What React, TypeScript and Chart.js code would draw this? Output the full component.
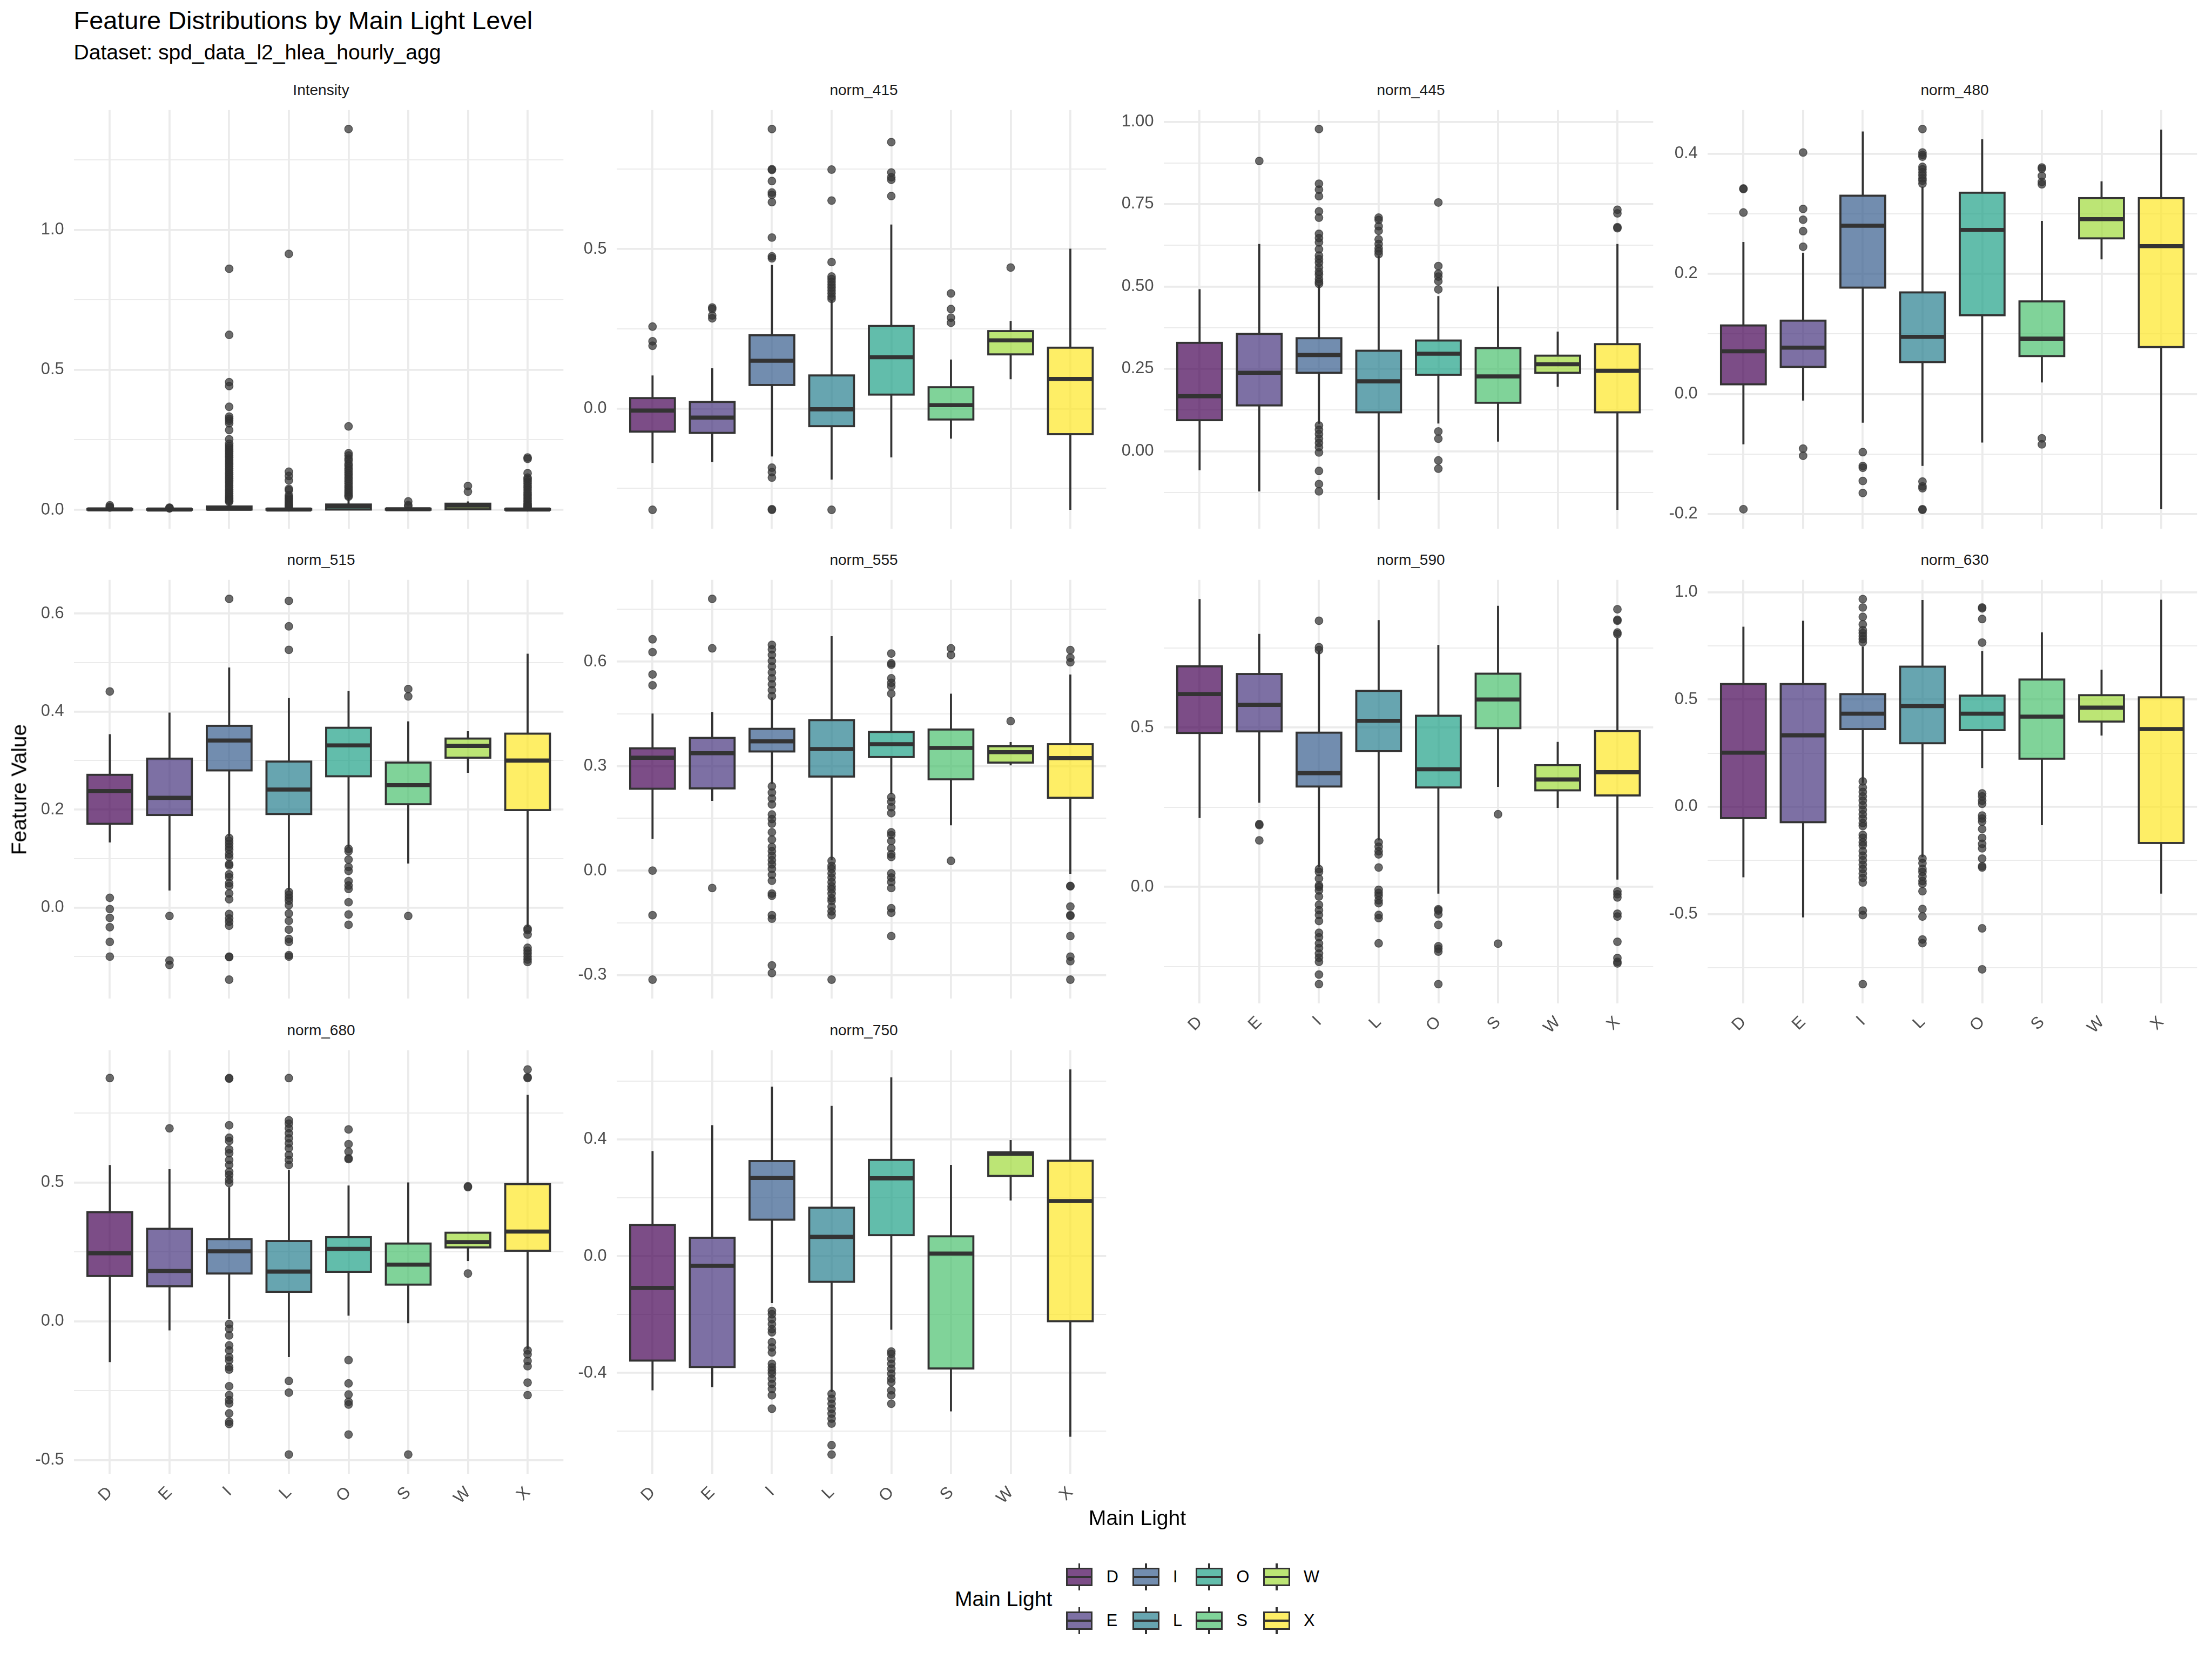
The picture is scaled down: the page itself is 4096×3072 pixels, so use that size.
import React, { useEffect, useRef } from "react";
import { Chart, registerables } from "chart.js";

Chart.register(...registerables);

// ---------------- data ----------------
const categories = ["D", "E", "I", "L", "O", "S", "W", "X"];
const features = ["Intensity", "norm_415", "norm_445", "norm_480", "norm_515", "norm_555", "norm_590", "norm_630", "norm_680", "norm_750"];
const viridisColors = ["#440154", "#46337E", "#365C8D", "#277F8E", "#1FA187", "#4AC16D", "#9FDA3A", "#FDE725"];

const q1Values = [
  [0.0005, 0.0003, 0.001, 0.0004, 0.001, 0.0005, 0.002, 0.0003],
  [-0.072, -0.076, 0.074, -0.055, 0.044, -0.034, 0.170, -0.080],
  [0.094, 0.139, 0.238, 0.118, 0.232, 0.147, 0.238, 0.118],
  [0.016, 0.045, 0.177, 0.053, 0.131, 0.063, 0.259, 0.078],
  [0.171, 0.189, 0.280, 0.191, 0.268, 0.211, 0.306, 0.199],
  [0.235, 0.236, 0.342, 0.270, 0.326, 0.262, 0.310, 0.209],
  [0.483, 0.488, 0.315, 0.426, 0.312, 0.498, 0.303, 0.287],
  [-0.053, -0.072, 0.362, 0.296, 0.357, 0.224, 0.397, -0.169],
  [0.163, 0.126, 0.172, 0.106, 0.178, 0.132, 0.266, 0.254],
  [-0.358, -0.380, 0.125, -0.088, 0.072, -0.385, 0.275, -0.223],
];
const medianValues = [
  [0.0015, 0.001, 0.004, 0.001, 0.012, 0.002, 0.015, 0.001],
  [-0.006, -0.028, 0.150, -0.002, 0.161, 0.011, 0.214, 0.093],
  [0.167, 0.238, 0.292, 0.212, 0.296, 0.227, 0.264, 0.244],
  [0.071, 0.077, 0.280, 0.095, 0.273, 0.092, 0.291, 0.246],
  [0.238, 0.224, 0.341, 0.241, 0.331, 0.250, 0.330, 0.300],
  [0.324, 0.337, 0.371, 0.349, 0.363, 0.352, 0.340, 0.323],
  [0.605, 0.571, 0.357, 0.521, 0.369, 0.588, 0.337, 0.360],
  [0.252, 0.333, 0.434, 0.469, 0.434, 0.420, 0.462, 0.362],
  [0.245, 0.181, 0.252, 0.179, 0.261, 0.204, 0.285, 0.323],
  [-0.109, -0.033, 0.268, 0.066, 0.267, 0.009, 0.351, 0.189],
];
const q3Values = [
  [0.003, 0.002, 0.012, 0.003, 0.019, 0.004, 0.022, 0.003],
  [0.033, 0.021, 0.230, 0.104, 0.259, 0.067, 0.243, 0.191],
  [0.329, 0.356, 0.343, 0.305, 0.336, 0.313, 0.290, 0.325],
  [0.114, 0.122, 0.330, 0.169, 0.335, 0.154, 0.326, 0.326],
  [0.271, 0.304, 0.371, 0.298, 0.367, 0.296, 0.345, 0.355],
  [0.351, 0.381, 0.407, 0.432, 0.398, 0.405, 0.357, 0.363],
  [0.692, 0.668, 0.484, 0.615, 0.537, 0.669, 0.382, 0.489],
  [0.572, 0.572, 0.525, 0.653, 0.518, 0.593, 0.520, 0.510],
  [0.393, 0.333, 0.296, 0.289, 0.303, 0.280, 0.319, 0.494],
  [0.107, 0.063, 0.326, 0.166, 0.330, 0.068, 0.356, 0.327],
];
const whiskerLow = [
  [0.0, 0.0, 0.0, 0.0, 0.0, 0.0, 0.0, 0.0],
  [-0.170, -0.167, -0.150, -0.222, -0.153, -0.094, 0.092, -0.317],
  [-0.058, -0.122, 0.083, -0.148, 0.084, 0.029, 0.196, -0.178],
  [-0.084, -0.011, -0.048, -0.120, -0.081, 0.019, 0.224, -0.192],
  [0.133, 0.035, 0.145, 0.035, 0.123, 0.090, 0.275, -0.040],
  [0.091, 0.200, 0.249, 0.030, 0.220, 0.130, 0.302, -0.009],
  [0.216, 0.264, 0.061, 0.146, -0.021, 0.314, 0.248, 0.023],
  [-0.329, -0.516, 0.111, -0.235, 0.180, -0.086, 0.332, -0.405],
  [-0.147, -0.033, 0.008, -0.129, 0.020, -0.007, 0.217, -0.101],
  [-0.460, -0.449, -0.161, -0.466, -0.252, -0.532, 0.191, -0.619],
];
const whiskerHigh = [
  [0.006, 0.004, 0.028, 0.007, 0.045, 0.009, 0.03, 0.007],
  [0.104, 0.127, 0.450, 0.340, 0.577, 0.154, 0.275, 0.501],
  [0.492, 0.629, 0.505, 0.594, 0.471, 0.500, 0.363, 0.629],
  [0.253, 0.235, 0.437, 0.345, 0.424, 0.288, 0.354, 0.440],
  [0.354, 0.398, 0.490, 0.428, 0.442, 0.380, 0.360, 0.518],
  [0.451, 0.455, 0.497, 0.673, 0.497, 0.508, 0.369, 0.563],
  [0.903, 0.794, 0.740, 0.837, 0.759, 0.882, 0.455, 0.782],
  [0.839, 0.867, 0.747, 0.964, 0.726, 0.813, 0.639, 0.965],
  [0.563, 0.548, 0.483, 0.545, 0.489, 0.500, 0.319, 0.816],
  [0.360, 0.449, 0.581, 0.515, 0.613, 0.313, 0.398, 0.640],
];
const outlierValues: number[][][] = [
  [
    [0.016, 0.011, 0.008],
    [0.008, 0.006, 0.005],
    [0.861, 0.625, 0.456, 0.442, 0.368, 0.333, 0.325, 0.318, 0.309, 0.285, 0.252, 0.236, 0.228, 0.221, 0.214, 0.207, 0.2, 0.193, 0.186, 0.178, 0.171, 0.163, 0.156, 0.148, 0.141, 0.133, 0.126, 0.118, 0.111, 0.103, 0.096, 0.088, 0.081, 0.073, 0.066, 0.059, 0.052, 0.046, 0.041, 0.036, 0.032, 0.029],
    [0.914, 0.136, 0.121, 0.105, 0.075, 0.07, 0.052, 0.046, 0.04, 0.035, 0.029, 0.024, 0.019, 0.015, 0.012, 0.009],
    [1.36, 0.298, 0.202, 0.194, 0.183, 0.176, 0.164, 0.157, 0.148, 0.141, 0.132, 0.125, 0.117, 0.11, 0.101, 0.094, 0.086, 0.078, 0.071, 0.064, 0.058, 0.051, 0.047],
    [0.03, 0.017, 0.012],
    [0.085, 0.065],
    [0.187, 0.182, 0.131, 0.115, 0.109, 0.101, 0.094, 0.086, 0.079, 0.071, 0.063, 0.056, 0.049, 0.042, 0.035, 0.029, 0.023, 0.018, 0.014, 0.011, 0.009],
  ],
  [
    [0.257, 0.211, 0.197, -0.317],
    [0.317, 0.312, 0.292, 0.283],
    [0.876, 0.750, 0.748, 0.713, 0.677, 0.670, 0.647, 0.536, 0.477, 0.471, -0.185, -0.199, -0.216, -0.317, -0.315],
    [0.749, 0.652, 0.459, 0.414, 0.406, 0.397, 0.388, 0.379, 0.370, 0.361, 0.351, 0.344, -0.317],
    [0.835, 0.740, 0.725, 0.717, 0.666],
    [0.361, 0.312, 0.285, 0.269],
    [0.442],
    [],
  ],
  [
    [],
    [0.881],
    [0.978, 0.812, 0.794, 0.774, 0.728, 0.709, 0.660, 0.647, 0.634, 0.613, 0.594, 0.583, 0.572, 0.558, 0.545, 0.536, 0.523, 0.514, 0.508, 0.078, 0.065, 0.052, 0.038, 0.025, 0.012, -0.004, -0.060, -0.100, -0.122],
    [0.709, 0.702, 0.683, 0.669, 0.643, 0.629, 0.616, 0.607, 0.598],
    [0.755, 0.562, 0.539, 0.530, 0.516, 0.491, 0.060, 0.038, -0.028, -0.053],
    [],
    [],
    [0.733, 0.722, 0.680, 0.677],
  ],
  [
    [0.342, 0.341, 0.302, -0.192],
    [0.402, 0.308, 0.290, 0.271, 0.245, -0.091, -0.103],
    [-0.097, -0.120, -0.123, -0.145, -0.165],
    [0.441, 0.402, 0.398, 0.395, 0.378, 0.374, 0.369, 0.364, 0.359, 0.355, 0.350, -0.146, -0.154, -0.157, -0.192, -0.193],
    [],
    [0.377, 0.375, 0.363, 0.353, 0.349, -0.074, -0.084],
    [],
    [],
  ],
  [
    [0.441, 0.020, -0.003, -0.021, -0.040, -0.070, -0.100],
    [-0.017, -0.108, -0.117],
    [0.630, 0.142, 0.136, 0.130, 0.124, 0.118, 0.109, 0.103, 0.089, 0.086, 0.068, 0.062, 0.050, 0.044, 0.029, 0.017, -0.013, -0.022, -0.029, -0.037, -0.100, -0.101, -0.147],
    [0.626, 0.574, 0.526, 0.032, 0.026, 0.020, 0.014, 0.005, -0.012, -0.027, -0.045, -0.064, -0.070, -0.097, -0.100],
    [0.120, 0.115, 0.098, 0.083, 0.075, 0.054, 0.045, 0.038, 0.011, -0.014, -0.035],
    [0.446, 0.431, -0.017],
    [],
    [-0.043, -0.046, -0.055, -0.082, -0.088, -0.094, -0.100, -0.106, -0.111],
  ],
  [
    [0.664, 0.627, 0.563, 0.532, 0.0, -0.128, -0.313],
    [0.780, 0.638, -0.050],
    [0.648, 0.635, 0.619, 0.602, 0.586, 0.569, 0.552, 0.535, 0.518, 0.501, 0.242, 0.224, 0.207, 0.190, 0.161, 0.148, 0.135, 0.110, 0.089, 0.068, 0.056, 0.043, 0.030, 0.018, 0.005, -0.012, -0.029, -0.066, -0.072, -0.128, -0.138, -0.272, -0.294],
    [0.028, 0.013, 0.005, -0.008, -0.020, -0.033, -0.045, -0.054, -0.066, -0.079, -0.087, -0.104, -0.117, -0.128, -0.313],
    [0.623, 0.595, 0.591, 0.552, 0.539, 0.529, 0.508, 0.211, 0.198, 0.182, 0.165, 0.110, 0.102, 0.085, 0.064, 0.047, 0.039, -0.008, -0.020, -0.033, -0.050, -0.108, -0.121, -0.188],
    [0.638, 0.619, 0.028],
    [0.429],
    [0.633, 0.611, 0.598, -0.044, -0.045, -0.103, -0.128, -0.130, -0.188, -0.247, -0.260, -0.313],
  ],
  [
    [],
    [0.197, 0.194, 0.146],
    [0.835, 0.752, 0.743, 0.056, 0.047, 0.026, 0.005, 0.0, -0.011, -0.030, -0.056, -0.073, -0.088, -0.107, -0.144, -0.158, -0.177, -0.192, -0.209, -0.222, -0.235, -0.275, -0.305],
    [0.140, 0.126, 0.112, 0.102, 0.061, -0.009, -0.019, -0.028, -0.042, -0.051, -0.088, -0.098, -0.177],
    [-0.070, -0.074, -0.086, -0.119, -0.186, -0.194, -0.203, -0.305],
    [0.228, -0.178],
    [],
    [0.871, 0.838, 0.835, 0.798, 0.793, -0.014, -0.023, -0.033, -0.084, -0.093, -0.172, -0.223, -0.235, -0.240],
  ],
  [
    [],
    [],
    [0.968, 0.929, 0.885, 0.850, 0.823, 0.809, 0.795, 0.781, 0.767, 0.118, 0.090, 0.069, 0.048, 0.028, 0.007, -0.014, -0.035, -0.055, -0.076, -0.090, -0.131, -0.145, -0.166, -0.180, -0.207, -0.228, -0.249, -0.270, -0.290, -0.311, -0.332, -0.353, -0.484, -0.505, -0.827],
    [-0.242, -0.263, -0.290, -0.304, -0.325, -0.346, -0.359, -0.394, -0.477, -0.512, -0.619, -0.636],
    [0.929, 0.925, 0.875, 0.765, 0.062, 0.048, 0.028, 0.014, -0.041, -0.055, -0.069, -0.104, -0.145, -0.173, -0.194, -0.242, -0.277, -0.283, -0.567, -0.758],
    [],
    [],
    [],
  ],
  [
    [0.876],
    [0.695],
    [0.876, 0.874, 0.706, 0.661, 0.649, 0.619, 0.605, 0.581, 0.563, 0.539, 0.527, 0.510, 0.498, -0.010, -0.027, -0.051, -0.087, -0.105, -0.129, -0.141, -0.165, -0.174, -0.234, -0.266, -0.284, -0.296, -0.332, -0.362, -0.370],
    [0.876, 0.724, 0.712, 0.695, 0.677, 0.659, 0.641, 0.623, 0.599, 0.581, 0.563, -0.215, -0.257, -0.480],
    [0.691, 0.638, 0.611, 0.587, 0.584, -0.140, -0.224, -0.264, -0.290, -0.300, -0.408],
    [-0.480],
    [0.486, 0.483, 0.172],
    [0.907, 0.879, 0.876, -0.105, -0.119, -0.143, -0.162, -0.221, -0.266],
  ],
  [
    [],
    [],
    [-0.188, -0.199, -0.216, -0.233, -0.250, -0.261, -0.295, -0.313, -0.330, -0.369, -0.381, -0.392, -0.403, -0.420, -0.438, -0.455, -0.477, -0.523],
    [-0.472, -0.489, -0.506, -0.523, -0.540, -0.557, -0.574, -0.648, -0.680],
    [-0.327, -0.335, -0.352, -0.369, -0.386, -0.403, -0.420, -0.432, -0.460, -0.477, -0.506],
    [],
    [],
    [],
  ],
];

const yMajorTicks = [
  [0, 0.5, 1.0],
  [0, 0.5],
  [0, 0.25, 0.5, 0.75, 1.0],
  [-0.2, 0, 0.2, 0.4],
  [0, 0.2, 0.4, 0.6],
  [-0.3, 0, 0.3, 0.6],
  [0, 0.5],
  [-0.5, 0, 0.5, 1.0],
  [-0.5, 0, 0.5],
  [-0.4, 0, 0.4],
];
const yMinorTicks = [
  [0.25, 0.75, 1.25],
  [-0.25, 0.25, 0.75],
  [-0.125, 0.125, 0.375, 0.625, 0.875],
  [-0.1, 0.1, 0.3],
  [-0.1, 0.1, 0.3, 0.5],
  [-0.15, 0.15, 0.45, 0.75],
  [-0.25, 0.25, 0.75],
  [-0.75, -0.25, 0.25, 0.75],
  [-0.25, 0.25, 0.75],
  [-0.6, -0.2, 0.2, 0.6],
];
const yLabelDecimals = [1, 1, 2, 1, 1, 1, 1, 1, 1, 1];

// ---------------- layout (window px) ----------------
const FONT = '"Liberation Sans", Arial, Helvetica, sans-serif';
const PANEL_W = 915;
const PANEL_H = 793;
const AXIS_W = 88;
const XAXIS_H = 72;
const colLefts = [137, 1142, 2155, 3162];
const rowTops = [195, 1065, 1936];
const LINE_W = 3.8;
const MEDIAN_W = 7.6;
const GRID = "#EBEBEB";

function withAlpha(hex: string, a: number) {
  const r = parseInt(hex.slice(1, 3), 16);
  const g = parseInt(hex.slice(3, 5), 16);
  const b = parseInt(hex.slice(5, 7), 16);
  return `rgba(${r},${g},${b},${a})`;
}
const fillColors = viridisColors.map((c) => withAlpha(c, 0.7));

function limitsFor(i: number): [number, number] {
  const vals = [
    ...whiskerLow[i], ...whiskerHigh[i], ...q1Values[i], ...q3Values[i],
    ...outlierValues[i].flat(),
  ];
  const lo = Math.min(...vals);
  const hi = Math.max(...vals);
  const pad = (hi - lo) * 0.05;
  return [lo - pad, hi + pad];
}

function FacetPanel({ index }: { index: number }) {
  const ref = useRef<HTMLCanvasElement | null>(null);
  const col = index % 4;
  const row = Math.floor(index / 4);
  const showX = row === 2 || (row === 1 && col >= 2);
  const width = AXIS_W + PANEL_W;
  const height = PANEL_H + (showX ? XAXIS_H : 0);

  useEffect(() => {
    const canvas = ref.current;
    if (!canvas) return;
    const xs = categories.map((_, j) => j + 1);
    const [yMin, yMax] = limitsFor(index);
    const majors = yMajorTicks[index];
    const minors = yMinorTicks[index];
    const allTicks = [...majors, ...minors].sort((a, b) => a - b);
    const isMajor = (v: number) => majors.some((m) => Math.abs(m - v) < 1e-9);
    const q1 = q1Values[index];
    const q3 = q3Values[index];
    const med = medianValues[index];
    const lo = whiskerLow[index];
    const hi = whiskerHigh[index];
    const outliers: { x: number; y: number }[] = [];
    outlierValues[index].forEach((list, j) => list.forEach((v) => outliers.push({ x: j + 1, y: v })));

    const boxParts = {
      id: "boxParts" + index,
      beforeDatasetsDraw(chart: any) {
        const { ctx } = chart;
        const x = chart.scales.x;
        const y = chart.scales.y;
        ctx.save();
        ctx.strokeStyle = "#333333";
        ctx.lineWidth = LINE_W;
        ctx.lineCap = "butt";
        xs.forEach((xv, j) => {
          const px = x.getPixelForValue(xv);
          ctx.beginPath();
          ctx.moveTo(px, y.getPixelForValue(hi[j]));
          ctx.lineTo(px, y.getPixelForValue(q3[j]));
          ctx.moveTo(px, y.getPixelForValue(q1[j]));
          ctx.lineTo(px, y.getPixelForValue(lo[j]));
          ctx.stroke();
        });
        ctx.restore();
      },
      afterDatasetsDraw(chart: any) {
        const { ctx } = chart;
        const x = chart.scales.x;
        const y = chart.scales.y;
        ctx.save();
        ctx.strokeStyle = "#333333";
        xs.forEach((xv, j) => {
          const left = x.getPixelForValue(xv - 0.375);
          const right = x.getPixelForValue(xv + 0.375);
          const top = y.getPixelForValue(q3[j]);
          const bottom = y.getPixelForValue(q1[j]);
          ctx.lineWidth = LINE_W;
          ctx.lineJoin = "miter";
          ctx.strokeRect(left, top, right - left, bottom - top);
          ctx.lineWidth = MEDIAN_W;
          ctx.lineCap = "butt";
          const my = y.getPixelForValue(med[j]);
          ctx.beginPath();
          ctx.moveTo(left, my);
          ctx.lineTo(right, my);
          ctx.stroke();
        });
        ctx.restore();
      },
    };

    const chart = new Chart(canvas, {
      type: "bar",
      data: {
        datasets: [
          {
            type: "bar",
            data: xs.map((xv, j) => ({ x: xv, y: [q1[j], q3[j]] })) as any,
            backgroundColor: fillColors,
            borderWidth: 0,
            barPercentage: 0.75,
            categoryPercentage: 1,
            order: 1,
          } as any,
          {
            type: "scatter",
            data: outliers as any,
            pointRadius: 7.2,
            pointBackgroundColor: "rgba(51,51,51,0.72)",
            pointBorderColor: "rgba(51,51,51,0.72)",
            pointBorderWidth: 1.5,
            pointHoverRadius: 7.2,
            order: 2,
          } as any,
        ],
      },
      options: {
        responsive: false,
        animation: false,
        devicePixelRatio: 1,
        events: [],
        layout: { padding: 0 },
        plugins: {
          legend: { display: false },
          tooltip: { enabled: false },
          title: { display: false },
        },
        scales: {
          x: {
            type: "linear",
            min: 0.4,
            max: 8.6,
            offset: false,
            afterBuildTicks: (s: any) => {
              s.ticks = xs.map((v) => ({ value: v }));
            },
            afterFit: (s: any) => {
              s.height = showX ? XAXIS_H : 0;
              s.paddingLeft = 0;
              s.paddingRight = 0;
            },
            grid: { color: GRID, lineWidth: LINE_W, drawTicks: false, offset: false },
            border: { display: false },
            ticks: {
              display: showX,
              autoSkip: false,
              minRotation: 45,
              maxRotation: 45,
              padding: 17,
              color: "#4D4D4D",
              font: { family: FONT, size: 30.7 },
              callback: (v: any) => categories[Math.round(Number(v)) - 1] ?? "",
            },
          },
          y: {
            type: "linear",
            min: yMin,
            max: yMax,
            beginAtZero: false,
            afterBuildTicks: (s: any) => {
              s.ticks = allTicks.map((v) => ({ value: v }));
            },
            afterFit: (s: any) => {
              s.width = AXIS_W;
              s.paddingTop = 0;
              s.paddingBottom = 0;
            },
            grid: {
              color: GRID,
              lineWidth: (ctx: any) => (ctx.tick && isMajor(ctx.tick.value) ? LINE_W : LINE_W / 2),
              drawTicks: false,
            },
            border: { display: false },
            ticks: {
              autoSkip: false,
              padding: 18.5,
              color: "#4D4D4D",
              font: { family: FONT, size: 30.7 },
              callback: (v: any) => (isMajor(Number(v)) ? Number(v).toFixed(yLabelDecimals[index]) : ""),
            },
          },
        },
      } as any,
      plugins: [boxParts],
    });
    return () => chart.destroy();
  }, [index, showX]);

  return (
    <canvas
      ref={ref}
      width={width}
      height={height}
      style={{ position: "absolute", left: colLefts[col] - AXIS_W, top: rowTops[row], width, height }}
    />
  );
}

function BaselineText({ text, left, baseline, size, color = "#000", center = false }: { text: string; left: number; baseline: number; size: number; color?: string; center?: boolean }) {
  return (
    <div
      style={{
        position: "absolute",
        left,
        top: baseline - 0.8465 * size,
        fontFamily: FONT,
        fontSize: size,
        lineHeight: `${size}px`,
        color,
        whiteSpace: "nowrap",
        transform: center ? "translateX(-50%)" : undefined,
      }}
    >
      {text}
    </div>
  );
}

function CenterText({ text, cx, cy, size, color = "#000", rotate = 0 }: { text: string; cx: number; cy: number; size: number; color?: string; rotate?: number }) {
  return (
    <div
      style={{
        position: "absolute",
        left: cx,
        top: cy,
        fontFamily: FONT,
        fontSize: size,
        lineHeight: `${size}px`,
        color,
        whiteSpace: "nowrap",
        transform: `translate(-50%, -50%) rotate(${rotate}deg)`,
      }}
    >
      {text}
    </div>
  );
}

const legendKeyCentersX = [1998.5, 2121.7, 2239.2, 2363.7];
const legendRowsY = [2920, 3001];
const KEY = 61.4;

function LegendKey({ cx, cy, fill }: { cx: number; cy: number; fill: string }) {
  const lw = LINE_W;
  const line = (l: number, t: number, w: number, h: number) => (
    <div style={{ position: "absolute", left: l, top: t, width: w, height: h, background: "#333333" }} />
  );
  return (
    <div style={{ position: "absolute", left: cx - KEY / 2, top: cy - KEY / 2, width: KEY, height: KEY }}>
      {line(KEY / 2 - lw / 2, 0.1 * KEY, lw, 0.15 * KEY)}
      {line(KEY / 2 - lw / 2, 0.75 * KEY, lw, 0.15 * KEY)}
      <div
        style={{
          position: "absolute",
          left: 0.125 * KEY - lw / 2,
          top: 0.25 * KEY - lw / 2,
          width: 0.75 * KEY + lw,
          height: 0.5 * KEY + lw,
          boxSizing: "border-box",
          border: `${lw}px solid #333333`,
          background: fill,
        }}
      />
      {line(0.125 * KEY, 0.5 * KEY - lw / 2, 0.75 * KEY, lw)}
    </div>
  );
}

export default function App() {
  return (
    <div style={{ position: "absolute", left: 0, top: 0, width: 4096, height: 3072, background: "#ffffff", overflow: "hidden" }}>
      <BaselineText text="Feature Distributions by Main Light Level" left={136.5} baseline={54.6} size={46.9} />
      <BaselineText text="Dataset: spd_data_l2_hlea_hourly_agg" left={136.5} baseline={110.4} size={39.1} />
      {features.map((f, i) => {
        const col = i % 4;
        const row = Math.floor(i / 4);
        return (
          <BaselineText key={"s" + f} text={f} left={colLefts[col] + PANEL_W / 2} baseline={rowTops[row] - 18.3} size={28} color="#1A1A1A" center />
        );
      })}
      {features.map((f, i) => (
        <FacetPanel key={f} index={i} />
      ))}
      <CenterText text="Feature Value" cx={34.6} cy={1462} size={39.1} rotate={-90} />
      <CenterText text="Main Light" cx={2106} cy={2811} size={39.1} />
      <div
        style={{
          position: "absolute",
          left: 1768,
          top: 2961 - 0.5 * 39.1,
          fontFamily: FONT,
          fontSize: 39.1,
          lineHeight: "39.1px",
          whiteSpace: "nowrap",
          color: "#000",
        }}
      >
        Main Light
      </div>
      {categories.map((c, j) => {
        const colIdx = Math.floor(j / 2);
        const rowIdx = j % 2;
        const cx = legendKeyCentersX[colIdx];
        const cy = legendRowsY[rowIdx];
        return (
          <React.Fragment key={"lg" + c}>
            <LegendKey cx={cx} cy={cy} fill={fillColors[j]} />
            <div
              style={{
                position: "absolute",
                left: cx + 50.3,
                top: cy - 0.5 * 30.7,
                fontFamily: FONT,
                fontSize: 30.7,
                lineHeight: "30.7px",
                whiteSpace: "nowrap",
                color: "#000",
              }}
            >
              {c}
            </div>
          </React.Fragment>
        );
      })}
    </div>
  );
}
